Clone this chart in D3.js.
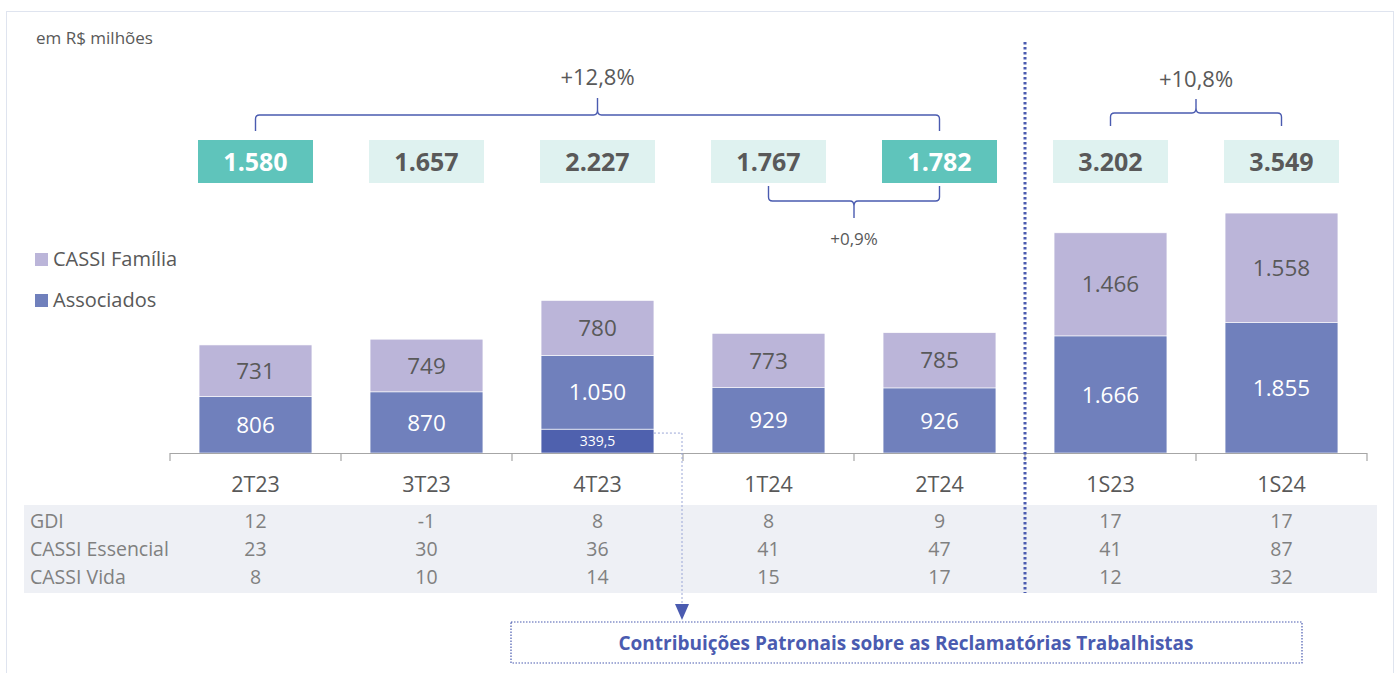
<!DOCTYPE html>
<html>
<head>
<meta charset="utf-8">
<script src="https://cdn.jsdelivr.net/npm/d3@7"></script>
<style>
  body { margin: 0; background: #fff; }
  text { font-family: "Open Sans", Lato, sans-serif; }
</style>
</head>
<body>
<svg width="1397" height="673"></svg>
<script>
// Chart data
var categories = ['2T23', '3T23', '4T23', '1T24', '2T24', '1S23', '1S24'];
var associados = [806, 870, 1050, 929, 926, 1666, 1855];
var reclamatorias = [0, 0, 339.5, 0, 0, 0, 0];
var cassiFamilia = [731, 749, 780, 773, 785, 1466, 1558];
var totals = [1580, 1657, 2227, 1767, 1782, 3202, 3549];
var highlighted = ['2T23', '2T24'];
var tableRows = ['GDI', 'CASSI Essencial', 'CASSI Vida'];
var gdi = [12, -1, 8, 8, 9, 17, 17];
var essencial = [23, 30, 36, 41, 47, 41, 87];
var vida = [8, 10, 14, 15, 17, 12, 32];

var svg = d3.select('svg');
var blue = '#4a5bb0';
var gray = '#595959';

// frame
svg.append('rect')
    .attr('x', 6.5).attr('y', 11.5)
    .attr('width', 1387).attr('height', 700)
    .attr('fill', 'none').attr('stroke', '#dfe4ef');

svg.append('text')
    .attr('x', 36).attr('y', 38).attr('dy', '0.35em')
    .attr('font-size', 17).attr('fill', gray)
    .text('em R$ milhões');

var baseY = 453;

var xScale = d3.scaleBand()
    .domain(categories)
    .range([170, 1367])
    .paddingInner(0.34)
    .paddingOuter(0.17);

var yScale = d3.scaleLinear()
    .domain([0, 6444])
    .range([baseY, 0]);

var step = xScale.step();
var bw = xScale.bandwidth();
function cx(c) { return xScale(c) + bw / 2; }

// stacked data
var rows = categories.map(function(c, i) {
    return {cat: c, recl: reclamatorias[i], assoc: associados[i], fam: cassiFamilia[i]};
});
var stack = d3.stack().keys(['recl', 'assoc', 'fam'])(rows);
var colors = {recl: '#4f61ae', assoc: '#7080bc', fam: '#bbb5d9'};
var labelColors = {recl: '#fff', assoc: '#fff', fam: gray};
var labelSizes = {recl: 14, assoc: 22.5, fam: 22.5};
var fmt = d3.formatLocale({decimal: ',', thousands: '.', grouping: [3], currency: ['R$', '']});

var layer = svg.selectAll('.layer')
    .data(stack)
    .enter().append('g')
    .attr('class', 'layer');

layer.selectAll('rect')
    .data(function(d) { return d.map(function(p) { return {key: d.key, p: p}; }); })
    .enter().append('rect')
    .filter(function(d) { return d.p[1] > d.p[0]; })
    .attr('x', function(d) { return xScale(d.p.data.cat); })
    .attr('y', function(d) { return yScale(d.p[1]); })
    .attr('width', bw)
    .attr('height', function(d) { return yScale(d.p[0]) - yScale(d.p[1]); })
    .attr('fill', function(d) { return colors[d.key]; })
    .attr('stroke', '#fff').attr('stroke-width', 0.6);

layer.selectAll('text')
    .data(function(d) { return d.map(function(p) { return {key: d.key, p: p}; }); })
    .enter().append('text')
    .filter(function(d) { return d.p[1] > d.p[0]; })
    .attr('x', function(d) { return cx(d.p.data.cat); })
    .attr('y', function(d) { return (yScale(d.p[0]) + yScale(d.p[1])) / 2; })
    .attr('dy', '0.36em')
    .attr('text-anchor', 'middle')
    .attr('font-size', function(d) { return labelSizes[d.key]; })
    .attr('fill', function(d) { return labelColors[d.key]; })
    .text(function(d) {
        var v = d.p[1] - d.p[0];
        return v % 1 ? fmt.format(',.1f')(v) : fmt.format(',')(v);
    });

// axis line + boundary ticks
svg.append('line')
    .attr('x1', 170).attr('x2', 1367)
    .attr('y1', baseY + 0.5).attr('y2', baseY + 0.5)
    .attr('stroke', '#a6a6a6').attr('stroke-width', 1.2);

var bounds = categories.map(function(c) { return xScale(c) - step * 0.17; });
bounds.push(1367);
svg.selectAll('.tickb')
    .data(bounds)
    .enter().append('line')
    .attr('x1', function(d) { return d; }).attr('x2', function(d) { return d; })
    .attr('y1', baseY).attr('y2', baseY + 8)
    .attr('stroke', '#a6a6a6').attr('stroke-width', 1.2);

var xAxis = svg.append('g')
    .attr('transform', 'translate(0,' + baseY + ')')
    .call(d3.axisBottom(xScale).tickSize(0).tickPadding(24));
xAxis.select('.domain').remove();
xAxis.selectAll('text')
    .attr('font-size', 21.5).attr('fill', gray)
    .style('font-family', '"Open Sans", sans-serif');

// table
svg.append('rect')
    .attr('x', 24).attr('y', 505)
    .attr('width', 1353).attr('height', 88)
    .attr('fill', '#eef0f5');

var tableData = [gdi, essencial, vida];
tableData.forEach(function(vals, r) {
    var y = 521 + r * 28;
    svg.append('text')
        .attr('x', 30).attr('y', y).attr('dy', '0.35em')
        .attr('font-size', 19.5).attr('fill', '#808080')
        .text(tableRows[r]);
    svg.selectAll('.trow' + r)
        .data(vals)
        .enter().append('text')
        .attr('x', function(d, i) { return cx(categories[i]); })
        .attr('y', y).attr('dy', '0.35em')
        .attr('text-anchor', 'middle')
        .attr('font-size', 19.5).attr('fill', '#808080')
        .text(function(d) { return d; });
});

// total boxes
var boxW = 115, boxH = 43, boxY = 140;
var boxes = svg.selectAll('.tot')
    .data(totals)
    .enter().append('g');
boxes.append('rect')
    .attr('x', function(d, i) { return cx(categories[i]) - boxW / 2; })
    .attr('y', boxY).attr('width', boxW).attr('height', boxH)
    .attr('fill', function(d, i) { return highlighted.indexOf(categories[i]) >= 0 ? '#5fc4bb' : '#dff2f0'; });
boxes.append('text')
    .attr('x', function(d, i) { return cx(categories[i]); })
    .attr('y', boxY + boxH / 2).attr('dy', '0.36em')
    .attr('text-anchor', 'middle')
    .attr('font-size', 25).attr('font-weight', 'bold')
    .attr('fill', function(d, i) { return highlighted.indexOf(categories[i]) >= 0 ? '#fff' : gray; })
    .text(function(d) { return fmt.format(',')(d); });

// curly brackets
function brace(x1, x2, yLine, yEnd, yTip) {
    var m = (x1 + x2) / 2;
    var s = yEnd > yLine ? 1 : -1;
    var t = yTip < yLine ? -1 : 1;
    return 'M' + x1 + ',' + yEnd +
        'L' + x1 + ',' + (yLine + s * 4) +
        'Q' + x1 + ',' + yLine + ' ' + (x1 + 4) + ',' + yLine +
        'L' + (m - 4) + ',' + yLine +
        'Q' + m + ',' + yLine + ' ' + m + ',' + (yLine + t * 5) +
        'L' + m + ',' + yTip +
        'M' + m + ',' + (yLine + t * 5) +
        'Q' + m + ',' + yLine + ' ' + (m + 4) + ',' + yLine +
        'L' + (x2 - 4) + ',' + yLine +
        'Q' + x2 + ',' + yLine + ' ' + x2 + ',' + (yLine + s * 4) +
        'L' + x2 + ',' + yEnd;
}
var braces = [
    {a: '2T23', b: '2T24', line: 115, end: 131, tip: 98, label: '+12,8%', ly: 77, fs: 22},
    {a: '1T24', b: '2T24', line: 201, end: 186, tip: 218, label: '+0,9%', ly: 239, fs: 17},
    {a: '1S23', b: '1S24', line: 113, end: 126, tip: 99, label: '+10,8%', ly: 79, fs: 22}
];
braces.forEach(function(b) {
    var x1 = cx(b.a), x2 = cx(b.b);
    svg.append('path')
        .attr('d', brace(x1, x2, b.line, b.end, b.tip))
        .attr('fill', 'none').attr('stroke', blue).attr('stroke-width', 1.4);
    svg.append('text')
        .attr('x', (x1 + x2) / 2).attr('y', b.ly).attr('dy', '0.35em')
        .attr('text-anchor', 'middle')
        .attr('font-size', b.fs).attr('fill', gray)
        .text(b.label);
});

// divider between quarters and semesters
var divX = xScale('1S23') - step * 0.17;
svg.append('line')
    .attr('x1', divX).attr('x2', divX)
    .attr('y1', 42).attr('y2', 593)
    .attr('stroke', blue).attr('stroke-width', 3)
    .attr('stroke-dasharray', '2.5,2.5');

// legend
var legend = [
    {name: 'CASSI Família', color: colors.fam, y: 259},
    {name: 'Associados', color: colors.assoc, y: 300}
];
legend.forEach(function(l) {
    svg.append('rect')
        .attr('x', 35).attr('y', l.y - 6).attr('width', 13).attr('height', 13)
        .attr('fill', l.color);
    svg.append('text')
        .attr('x', 53).attr('y', l.y).attr('dy', '0.36em')
        .attr('font-size', 20).attr('fill', gray)
        .text(l.name);
});

// annotation for 339,5 segment
var rx = xScale('4T23') + bw;
var ry = (yScale(0) + yScale(339.5)) / 2 - 8;
var ax = 682;
svg.append('path')
    .attr('d', 'M' + rx + ',' + ry + 'L' + ax + ',' + ry + 'L' + ax + ',' + 605)
    .attr('fill', 'none').attr('stroke', '#9aa6d6').attr('stroke-width', 1)
    .attr('stroke-dasharray', '2,2');
svg.append('path')
    .attr('d', 'M' + (ax - 7) + ',604L' + (ax + 7) + ',604L' + ax + ',620Z')
    .attr('fill', blue);

svg.append('rect')
    .attr('x', 511).attr('y', 622)
    .attr('width', 791).attr('height', 41)
    .attr('fill', 'none').attr('stroke', blue).attr('stroke-width', 1.2)
    .attr('stroke-dasharray', '1.5,1.5');
svg.append('text')
    .attr('x', 906).attr('y', 643).attr('dy', '0.36em')
    .attr('text-anchor', 'middle')
    .attr('font-size', 19).attr('font-weight', 'bold').attr('fill', blue)
    .text('Contribuições Patronais sobre as Reclamatórias Trabalhistas');
</script>
</body>
</html>
